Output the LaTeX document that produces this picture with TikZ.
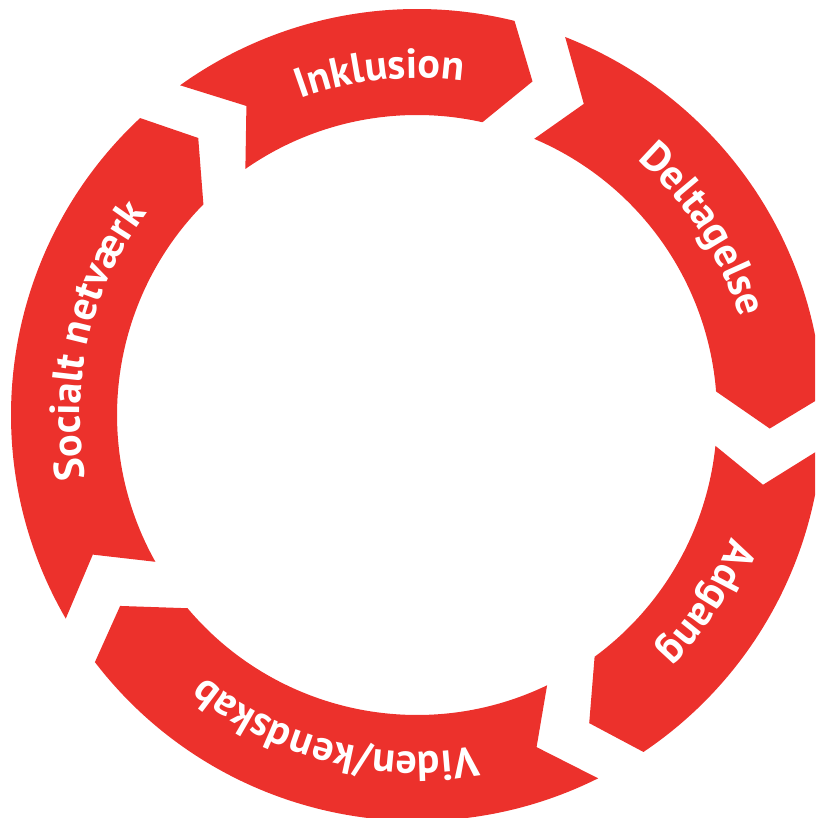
\documentclass[tikz,border=0pt]{standalone}
\usepackage{fontspec}
\setmainfont{PT Sans}
\usetikzlibrary{decorations.text}
\definecolor{ringred}{HTML}{EC312C}
\newcommand\RingLabelFont{\fontsize{42}{42}\selectfont\bfseries}
% #1 start outer, #2 start notch vertex, #3 start inner, #4 end outer, #5 tip, #6 end inner
\newcommand\RingSeg[6]{%
  \fill[segment] (#1:406pt) arc[start angle=#1, end angle=#4, radius=406pt]
    -- (#5:353pt) -- (#6:300pt)
    arc[start angle=#6, end angle=#3, radius=300pt]
    -- (#2:353pt) -- cycle;}
\newcommand\RingText[2]{%
  \path[decorate, decoration={text along path, text={|\RingLabelFont|#2},
      text align=center, text color=white}]
    ({#1+60}:337pt) arc[start angle={#1+60}, end angle={#1-60}, radius=337pt];}
\tikzset{segment/.style={fill=ringred, draw=none}}
\begin{document}
\begin{tikzpicture}[x=1pt,y=1pt]
\useasboundingbox (0,0) rectangle (815,818);
\clip (0,0) rectangle (815,818);
\begin{scope}[shift={(417,403)}]
  % Inklusion
  \RingSeg{125.7}{118.9}{124.9}{76.1}{70.9}{77.4}
  % Deltagelse
  \RingSeg{68.6}{61.8}{67.0}{2.6}{-2.2}{4.5}
  % Adgang
  \RingSeg{-4.7}{-11.4}{-5.9}{-56.1}{-60.8}{-53.7}
  % Viden/kendskab
  \RingSeg{-63.5}{-70.2}{-64.3}{-142.5}{-147.25}{-139.9}
  % Socialt netvaerk
  \RingSeg{210.1}{203.3}{209.3}{133.0}{128.3}{135.4}
  \RingText{96.2}{Inklusion}
  \RingText{33}{Deltagelse}
  \RingText{-33}{Adgang}
  \RingText{-104.5}{Viden/kendskab}
  \RingText{167}{Socialt netværk}
\end{scope}
\end{tikzpicture}
\end{document}
